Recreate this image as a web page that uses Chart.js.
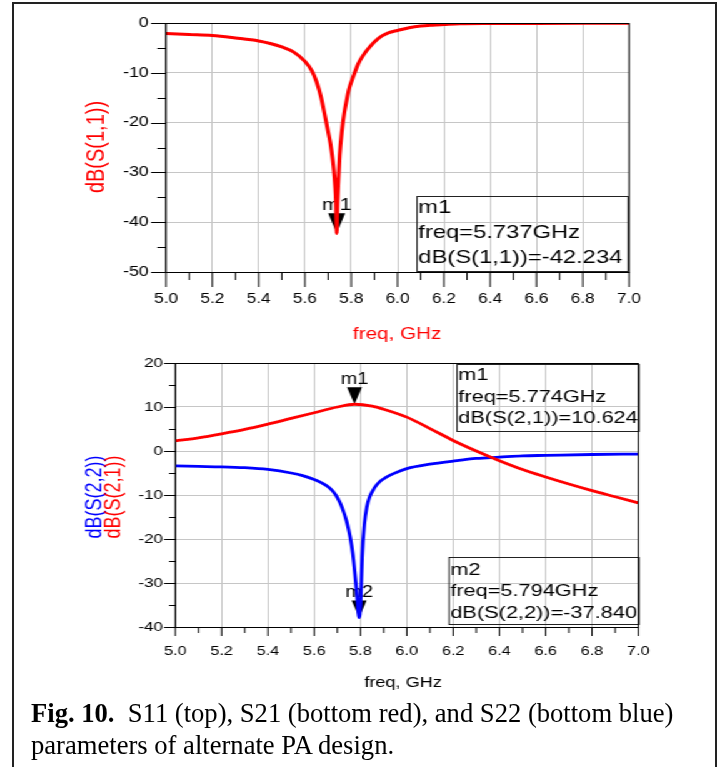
<!DOCTYPE html>
<html>
<head>
<meta charset="utf-8">
<script src="https://cdn.jsdelivr.net/npm/chart.js@4.4.1/dist/chart.umd.min.js"></script>
<style>
  html, body { margin: 0; padding: 0; background: #fff; }
  body { width: 723px; height: 767px; position: relative; overflow: hidden; }
  #frame { position: absolute; left: 12px; top: 2px; width: 701px; height: 800px; border: 2px solid #222; border-bottom: none; }
  /* the ADS plots in the paper are stretched sideways, so draw narrow and scale */
  #plots { position: absolute; left: 0; top: 0; width: 580px; height: 700px; transform: scaleX(1.25); transform-origin: 0 0; }
  #plots canvas { position: absolute; left: 0; }
  #caption { position: absolute; left: 31px; top: 697px; width: 684px; font-family: "Liberation Serif", "Times New Roman", serif; font-size: 26.6px; line-height: 32px; color: #000; white-space: nowrap; }
</style>
</head>
<body>
<div id="frame"></div>
<div id="plots">
  <canvas id="s11Chart" width="580" height="345" style="top:0"></canvas>
  <canvas id="s2xChart" width="580" height="355" style="top:345px"></canvas>
</div>
<div id="caption"><b>Fig. 10.</b>&nbsp; S11 (top), S21 (bottom red), and S22 (bottom blue)<br>parameters of alternate PA design.</div>
<script>
// S11, top plot
const s11Freq = [5.0, 5.1, 5.2, 5.3, 5.4, 5.45, 5.5, 5.55, 5.6, 5.63, 5.65, 5.67, 5.69, 5.70, 5.71, 5.72, 5.725, 5.73, 5.734, 5.737,
  5.74, 5.744, 5.75, 5.76, 5.77, 5.78, 5.79, 5.81, 5.83, 5.85, 5.88, 5.92, 5.96, 6.0, 6.05, 6.1, 6.15, 6.2, 6.27, 6.4, 6.6, 6.8, 7.0];
const s11Db = [-2.1, -2.3, -2.5, -3.0, -3.6, -4.1, -4.8, -5.8, -7.7, -9.6, -11.8, -15.0, -19.5, -21.8, -24.2, -27.5, -29.6, -32.5, -36.0, -42.234,
  -36.5, -32.0, -26.5, -21.5, -18.0, -15.5, -13.3, -10.6, -8.2, -6.6, -4.8, -3.0, -2.0, -1.5, -0.95, -0.6, -0.42, -0.3, -0.15, -0.1, -0.08, -0.06, -0.05];

// S21 (red) and S22 (blue), bottom plot
const s21Freq = [5.0, 5.1, 5.2, 5.3, 5.4, 5.5, 5.6, 5.7, 5.774, 5.85, 5.9, 6.0, 6.1, 6.2, 6.3, 6.4, 6.5, 6.6, 6.7, 6.8, 6.9, 7.0];
const s21Db = [2.3, 3.0, 3.9, 4.9, 6.1, 7.4, 8.7, 10.0, 10.624, 10.2, 9.5, 7.7, 5.1, 2.4, 0.0, -2.2, -4.2, -5.9, -7.5, -9.0, -10.4, -11.8];

const s22Freq = [5.0, 5.1, 5.2, 5.3, 5.4, 5.5, 5.55, 5.6, 5.63, 5.66, 5.68, 5.7, 5.72, 5.74, 5.755, 5.767, 5.776, 5.785, 5.794,
  5.80, 5.807, 5.817, 5.827, 5.839, 5.86, 5.882, 5.91, 5.94, 6.0, 6.1, 6.2, 6.3, 6.4, 6.5, 6.6, 6.8, 7.0];
const s22Db = [-3.4, -3.5, -3.6, -3.8, -4.2, -5.0, -5.6, -6.5, -7.2, -8.1, -9.1, -10.6, -12.8, -16.0, -19.5, -23.5, -28.0, -33.0, -37.84,
  -35.0, -24.0, -16.5, -12.8, -10.5, -8.4, -7.0, -6.0, -5.2, -4.0, -3.0, -2.3, -1.7, -1.4, -1.1, -1.0, -0.8, -0.7];

// tick labels
const xTickLabels = ['5.0', '5.2', '5.4', '5.6', '5.8', '6.0', '6.2', '6.4', '6.6', '6.8', '7.0'];
const topYTickLabels = [0, -10, -20, -30, -40, -50];
const bottomYTickLabels = [20, 10, 0, -10, -20, -30, -40];

// markers
const topMarkerNames = ['m1'];
const topMarkerFreq = [5.737];
const topMarkerDb = [-42.234];
const bottomMarkerNames = ['m1', 'm2'];
const bottomMarkerFreq = [5.774, 5.794];
const bottomMarkerDb = [10.624, -37.840];
const bottomMarkerTrace = ['dB(S(2,1))', 'dB(S(2,2))'];

const RED = '#ff0000';
const BLUE = '#0000ff';
const GRID = '#c6c6c6';
const FONT = '"Liberation Sans", Arial, sans-serif';

const pts = (xs, ys) => xs.map((f, i) => ({ x: f, y: ys[i] }));
const isMajorX = v => xTickLabels.includes(v.toFixed(1));

// frame, ticks, titles, markers and marker boxes
const decor = {
  id: 'decor',
  beforeDatasetsDraw(chart, args, o) {
    const { ctx, scales: { x, y } } = chart;
    ctx.save();
    o.markers.forEach(m => {
      const px = x.getPixelForValue(m.freq);
      const py = y.getPixelForValue(m.db);
      ctx.fillStyle = '#000';
      ctx.beginPath();
      ctx.moveTo(px - o.triW, py - o.triH);
      ctx.lineTo(px + o.triW, py - o.triH);
      ctx.lineTo(px, py);
      ctx.closePath();
      ctx.fill();
      ctx.font = o.markFont + 'px ' + FONT;
      ctx.textAlign = 'center';
      ctx.textBaseline = 'alphabetic';
      ctx.fillText(m.name, px, py - o.triH - 3);
    });
    o.boxes.forEach(b => {
      ctx.strokeStyle = '#222';
      ctx.lineWidth = 1;
      ctx.strokeRect(b.x1, Math.round(b.y1) + 0.5, b.x2 - b.x1, Math.round(b.y2 - b.y1));
      ctx.save();
      ctx.beginPath();
      ctx.rect(b.x1, b.y1, b.x2 - b.x1 + 2, b.y2 - b.y1);
      ctx.clip();
      ctx.fillStyle = '#000';
      ctx.font = o.boxFont + 'px ' + FONT;
      ctx.textAlign = 'left';
      ctx.textBaseline = 'middle';
      b.lines.forEach((t, i) => ctx.fillText(t, b.x1 + 1, b.ly[i]));
      ctx.restore();
    });
    ctx.restore();
  },
  afterDraw(chart, args, o) {
    const { ctx, chartArea: ca, scales: { x, y } } = chart;
    ctx.save();
    ctx.strokeStyle = '#000';
    ctx.lineWidth = 1;
    ctx.strokeRect(ca.left, Math.round(ca.top) + 0.5, ca.right - ca.left, Math.round(ca.bottom - ca.top));
    ctx.beginPath();
    x.ticks.forEach(t => {
      const px = x.getPixelForValue(t.value);
      ctx.moveTo(px, ca.bottom);
      ctx.lineTo(px, ca.bottom + (isMajorX(t.value) ? o.xMajor : o.xMinor));
    });
    y.ticks.forEach(t => {
      const py = Math.round(y.getPixelForValue(t.value)) + 0.5;
      ctx.moveTo(ca.left, py);
      ctx.lineTo(ca.left - (t.value % 10 === 0 ? o.yMajor : o.yMinor), py);
    });
    ctx.stroke();

    ctx.textAlign = 'center';
    ctx.textBaseline = 'middle';
    o.yTitles.forEach(t => {
      ctx.save();
      ctx.translate(t.x, t.y);
      ctx.rotate(-Math.PI / 2);
      ctx.font = t.size + 'px ' + FONT;
      ctx.fillStyle = t.color;
      ctx.fillText(t.text, 0, 0);
      ctx.restore();
    });
    ctx.font = o.xTitle.size + 'px ' + FONT;
    ctx.fillStyle = o.xTitle.color;
    ctx.fillText(o.xTitle.text, o.xTitle.x, o.xTitle.y);
    ctx.restore();
  }
};

function makeScales(yMin, yMax, yLabels, plotLeft, xAxisH, xFont, yFont, xPad, yPad) {
  return {
    x: {
      type: 'linear', min: 5.0, max: 7.0,
      afterFit: s => { s.height = xAxisH; s.paddingLeft = 0; s.paddingRight = 0; },
      ticks: {
        stepSize: 0.1, autoSkip: false, maxRotation: 0, padding: xPad, color: '#000',
        font: { family: FONT, size: xFont },
        callback: v => isMajorX(v) ? v.toFixed(1) : ''
      },
      grid: { drawTicks: false, color: c => isMajorX(c.tick.value) ? GRID : 'rgba(0,0,0,0)' },
      border: { display: true, color: '#000' }
    },
    y: {
      min: yMin, max: yMax,
      afterFit: s => { s.width = plotLeft; s.paddingTop = 0; s.paddingBottom = 0; },
      ticks: {
        stepSize: 5, autoSkip: false, padding: yPad, color: '#000',
        font: { family: FONT, size: yFont },
        callback: v => yLabels.includes(v) ? String(v) : ''
      },
      grid: { drawTicks: false, color: c => c.tick.value % 10 === 0 ? GRID : 'rgba(0,0,0,0)' },
      border: { display: true, color: '#000' }
    }
  };
}

const baseOptions = {
  responsive: false,
  animation: false,
  events: [],
  plugins: { legend: { display: false }, tooltip: { enabled: false } }
};

new Chart(document.getElementById('s11Chart'), {
  type: 'line',
  data: {
    datasets: [{
      data: pts(s11Freq, s11Db), borderColor: RED, borderWidth: 3.1,
      pointRadius: 0, cubicInterpolationMode: 'monotone', fill: false
    }]
  },
  options: {
    ...baseOptions,
    layout: { padding: { left: 0, right: 76.8, top: 23, bottom: 0 } },
    scales: makeScales(-50, 0, topYTickLabels, 132.8, 73, 13.8, 14, 19, 14),
    plugins: {
      ...baseOptions.plugins,
      decor: {
        xMajor: 15, xMinor: 8, yMajor: 12, yMinor: 7,
        yTitles: [{ text: 'dB(S(1,1))', color: RED, size: 20, x: 77, y: 147 }],
        xTitle: { text: 'freq, GHz', color: RED, size: 16.5, x: 317.6, y: 334 },
        triW: 6.8, triH: 20, markFont: 17, boxFont: 19,
        markers: topMarkerNames.map((n, i) => ({ name: n, freq: topMarkerFreq[i], db: topMarkerDb[i] })),
        boxes: [{
          x1: 333.6, x2: 502.4, y1: 196, y2: 271, ly: [208, 233, 258],
          lines: [topMarkerNames[0], 'freq=' + topMarkerFreq[0].toFixed(3) + 'GHz', 'dB(S(1,1))=' + topMarkerDb[0].toFixed(3)]
        }]
      }
    }
  },
  plugins: [decor]
});

new Chart(document.getElementById('s2xChart'), {
  type: 'line',
  data: {
    datasets: [
      { data: pts(s21Freq, s21Db), borderColor: RED, borderWidth: 2.8, pointRadius: 0, cubicInterpolationMode: 'monotone', fill: false },
      { data: pts(s22Freq, s22Db), borderColor: BLUE, borderWidth: 2.8, pointRadius: 0, cubicInterpolationMode: 'monotone', fill: false }
    ]
  },
  options: {
    ...baseOptions,
    layout: { padding: { left: 0, right: 69.4, top: 18, bottom: 0 } },
    scales: makeScales(-40, 20, bottomYTickLabels, 140.2, 73, 13, 13.5, 17, 10),
    plugins: {
      ...baseOptions.plugins,
      decor: {
        xMajor: 9, xMinor: 6, yMajor: 9, yMinor: 5,
        yTitles: [
          { text: 'dB(S(2,2))', color: BLUE, size: 18, x: 76, y: 152 },
          { text: 'dB(S(2,1))', color: RED, size: 18, x: 91.2, y: 152 }
        ],
        xTitle: { text: 'freq, GHz', color: '#000', size: 14.5, x: 322.4, y: 338 },
        triW: 6, triH: 17, markFont: 16, boxFont: 17.4,
        markers: bottomMarkerNames.map((n, i) => ({ name: n, freq: bottomMarkerFreq[i], db: bottomMarkerDb[i] })),
        boxes: bottomMarkerNames.map((n, i) => ({
          x1: i === 0 ? 365.6 : 359.2, x2: 511.2,
          y1: i === 0 ? 19 : 212, y2: i === 0 ? 86 : 279,
          ly: i === 0 ? [30, 52, 73.5] : [225, 246.5, 268],
          lines: [n, 'freq=' + bottomMarkerFreq[i].toFixed(3) + 'GHz', bottomMarkerTrace[i] + '=' + bottomMarkerDb[i].toFixed(3)]
        }))
      }
    }
  },
  plugins: [decor]
});
</script>
</body>
</html>
